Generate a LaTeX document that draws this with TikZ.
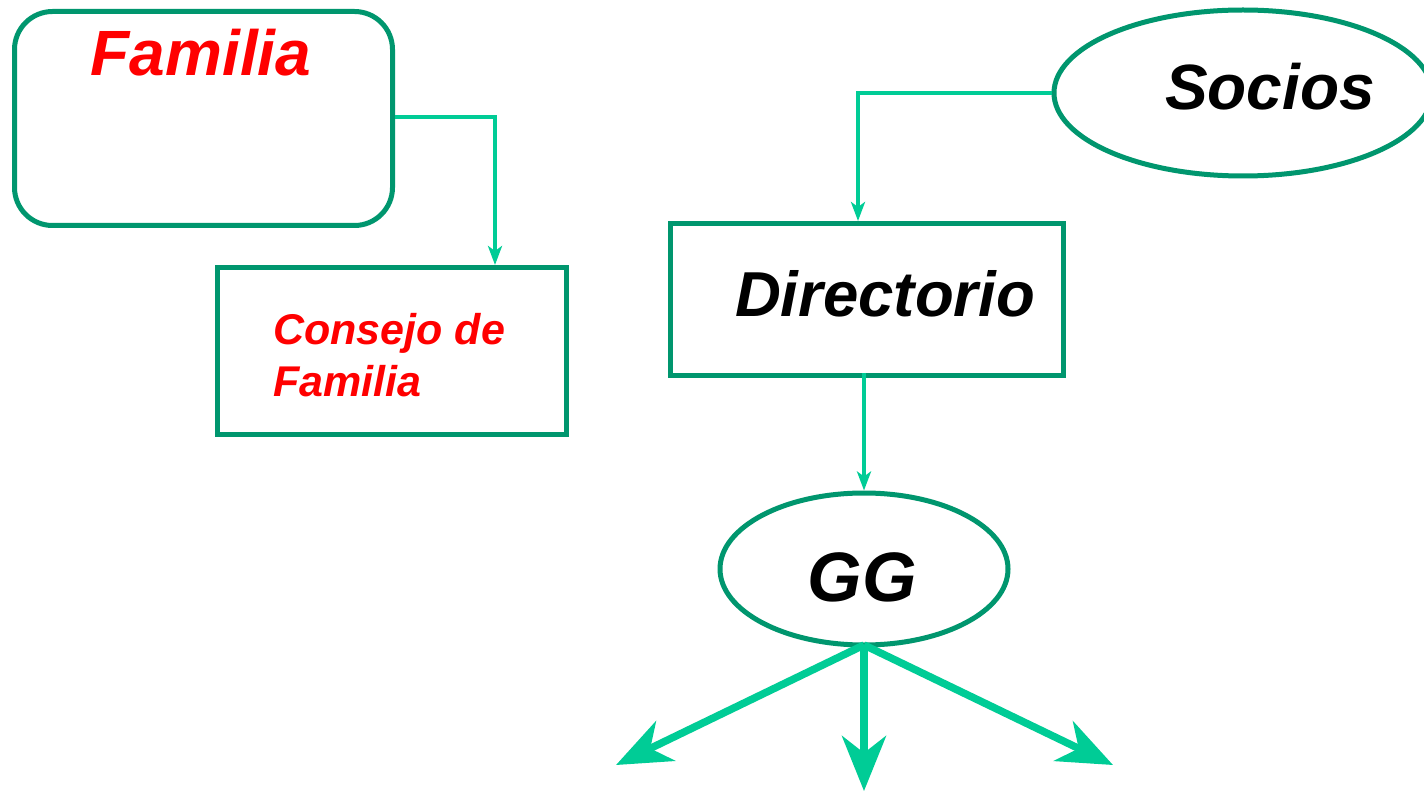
\documentclass[tikz,border=0pt]{standalone}
\usepackage{fontspec}
\setmainfont{Liberation Sans}
\usetikzlibrary{shapes.geometric,arrows.meta}
\definecolor{boxgreen}{RGB}{0,150,110}
\definecolor{linkgreen}{RGB}{0,204,150}
\definecolor{txtred}{RGB}{255,0,0}
\tikzset{
  frame/.style={draw=boxgreen, line width=5pt, fill=white},
  link/.style={draw=linkgreen, line width=4pt, -{Stealth[length=19pt,width=14pt,inset=5pt]}},
  bigarrow/.style={draw=linkgreen, line width=7.5pt, -{Stealth[length=55pt,width=44pt,inset=17pt]}},
  lbl/.style={inner sep=0pt, font=\bfseries\itshape}
}
\begin{document}
\begin{tikzpicture}[x=1pt,y=-1pt]
\useasboundingbox[fill=white] (0,0) rectangle (1424,791);
% shapes
\node[frame, rounded corners=38pt, minimum width=378pt, minimum height=214pt, anchor=north west] (fam) at (12,9) {};
\node[frame, minimum width=349pt, minimum height=167pt, anchor=north west] (cons) at (215,265) {};
\node[frame, minimum width=393pt, minimum height=152pt, anchor=north west] (dir) at (668,221) {};
\node[frame, ellipse, minimum width=378pt, minimum height=166pt] (soc) at (1243,93) {};
\node[frame, ellipse, minimum width=288pt, minimum height=152pt] (gg) at (864,569) {};
% texts
\node[lbl, text=txtred, font=\fontsize{64}{72}\selectfont\bfseries\itshape, anchor=base] (famt) at (201,76) {Familia};
\node[lbl, text=txtred, font=\fontsize{43}{51}\selectfont\bfseries\itshape, anchor=base west] (const1) at (273,345) {Consejo de};
\node[lbl, text=txtred, font=\fontsize{43}{51}\selectfont\bfseries\itshape, anchor=base west] (const2) at (273,396) {Familia};
\node[lbl, font=\fontsize{63.5}{72}\selectfont\bfseries\itshape, anchor=base] (dirt) at (885,317) {Directorio};
\node[lbl, font=\fontsize{64}{72}\selectfont\bfseries\itshape, anchor=base] (soct) at (1270,110) {Socios};
\node[lbl, font=\fontsize{70}{72}\selectfont\bfseries\itshape, anchor=base] (ggt) at (862,601) {GG};
% connector points
\coordinate (c1) at (495,117);
\coordinate (c2) at (858,93);
\coordinate (ggb) at (864,645);
\coordinate (e1) at (616,765);
\coordinate (e2) at (864,791);
\coordinate (e3) at (1113,765);
% connectors
\draw[link] (fam.east |- c1) -- (c1) -- (c1 |- cons.north);
\draw[link] (soc.west) -- (c2) -- (c2 |- dir.north);
\draw[link] (864,373) -- (gg.north);
\draw[bigarrow] (ggb) -- (e1);
\draw[bigarrow] (ggb) -- (e2);
\draw[bigarrow] (ggb) -- (e3);
\end{tikzpicture}
\end{document}
